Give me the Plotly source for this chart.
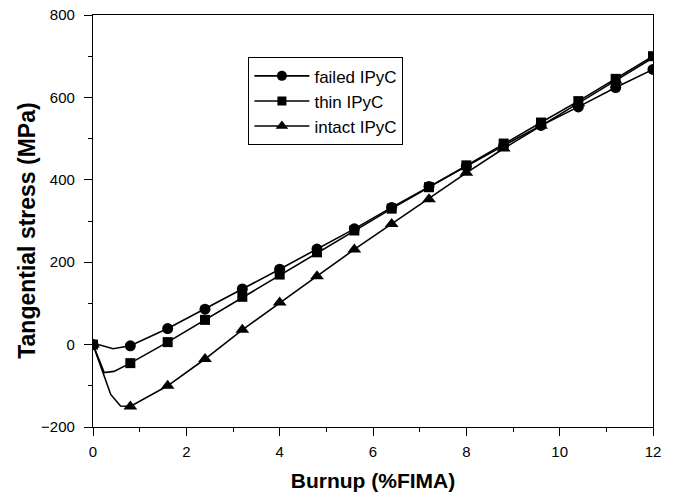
import plotly.graph_objects as go

# Marker positions (burnup, %FIMA)
burnup_markers = [0, 0.8, 1.6, 2.4, 3.2, 4.0, 4.8, 5.6, 6.4, 7.2, 8.0, 8.8, 9.6, 10.4, 11.2, 12.0]
failed_markers = [0, -3, 39, 86, 135, 183, 232, 281, 333, 384, 433, 483, 532, 577, 624, 668]
thin_markers = [0, -45, 6, 60, 116, 170, 224, 277, 330, 382, 435, 488, 539, 591, 645, 700]
intact_markers = [0, -150, -100, -35, 36, 102, 166, 231, 293, 353, 417, 476, 531, 586, 641, 696]

# Curve paths (extra points in the initial dip)
failed_x = [0, 0.15, 0.43, 0.64] + burnup_markers[1:]
failed_y = [0, -1, -10, -7] + failed_markers[1:]
thin_x = [0, 0.24, 0.45] + burnup_markers[1:]
thin_y = [0, -68, -65] + thin_markers[1:]
intact_x = [0, 0.38, 0.59] + burnup_markers[1:]
intact_y = [0, -121, -149] + intact_markers[1:]

x_ticks = [0, 2, 4, 6, 8, 10, 12]
y_ticks = [-200, 0, 200, 400, 600, 800]

names = ["failed IPyC", "thin IPyC", "intact IPyC"]
symbols = ["circle", "square", "triangle-up"]
sizes = [11, 10, 12]

FONT = "Liberation Sans, Arial"

fig = go.Figure()
series = [(failed_x, failed_y, failed_markers), (thin_x, thin_y, thin_markers), (intact_x, intact_y, intact_markers)]
for (lx, ly, my), name, sym, sz in zip(series, names, symbols, sizes):
    fig.add_trace(go.Scatter(x=lx, y=ly, mode="lines", line=dict(color="black", width=1.6),
                             showlegend=False, hoverinfo="skip"))
    fig.add_trace(go.Scatter(x=burnup_markers, y=my, mode="markers",
                             marker=dict(symbol=sym, size=sz, color="black"), showlegend=False))
    fig.add_trace(go.Scatter(x=[None], y=[None], mode="lines+markers", name=name,
                             legendgroup=name,
                             line=dict(color="black", width=1.6),
                             marker=dict(symbol=sym, size=sz - 1, color="black")))

axis_common = dict(showline=True, linecolor="black", linewidth=1.3, mirror=True,
                   ticks="outside", tickcolor="black", ticklen=8, tickwidth=1.3,
                   showgrid=False, zeroline=False, automargin=False,
                   ticklabeloverflow="allow",
                   tickfont=dict(family=FONT, size=15, color="black"))

fig.update_layout(
    width=674, height=492,
    margin=dict(l=93, r=21, t=15, b=65),
    plot_bgcolor="white", paper_bgcolor="white",
    xaxis=dict(range=[0, 12], tickvals=x_ticks,
               minor=dict(dtick=1, ticks="outside", ticklen=4, tickcolor="black", tickwidth=1.3),
               title=dict(text="<b>Burnup (%FIMA)</b>", standoff=17,
                          font=dict(family=FONT, size=21, color="black")),
               ticklabelstandoff=3,
               **axis_common),
    yaxis=dict(range=[-200, 800], tickvals=y_ticks,
               minor=dict(dtick=100, ticks="outside", ticklen=4, tickcolor="black", tickwidth=1.3),
               ticklabelstandoff=6,
               **axis_common),
    annotations=[dict(text="<b>Tangential stress (MPa)</b>", textangle=-90,
                      xref="paper", yref="paper", x=-0.118, y=0.476,
                      xanchor="center", yanchor="middle", showarrow=False,
                      font=dict(family=FONT, size=23, color="black"))],
    legend=dict(x=0.277, y=0.898, xanchor="left", yanchor="top",
                bordercolor="black", borderwidth=1.3, bgcolor="white",
                font=dict(family=FONT, size=17, color="black"),
                tracegroupgap=0, itemwidth=55),
)

# Remove the page's default body margin so the figure fills the window exactly.
fig.write_html("out.html", config={"displayModeBar": False},
               post_script="document.body.style.margin='0px';")
